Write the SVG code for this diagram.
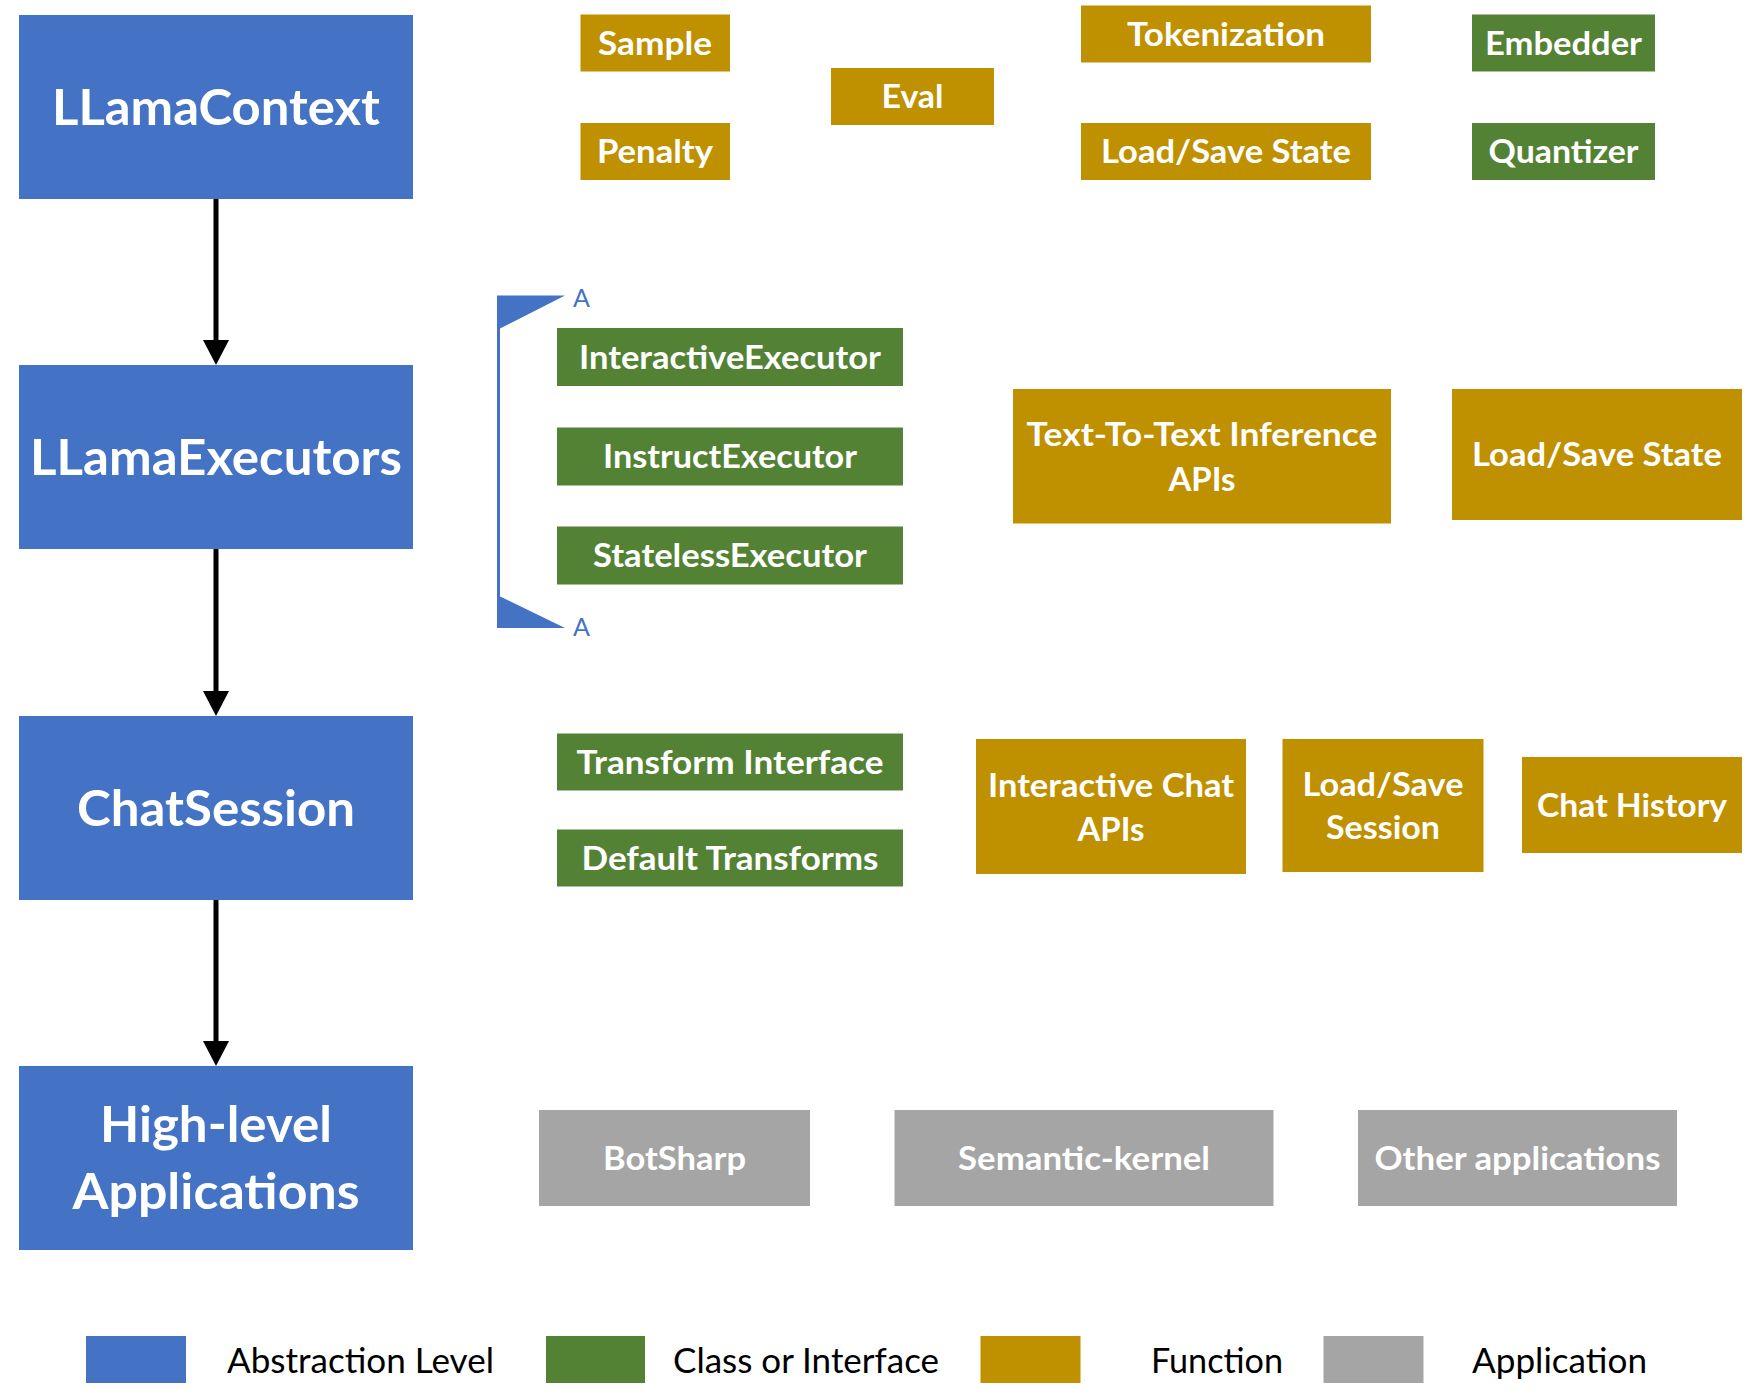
<svg xmlns="http://www.w3.org/2000/svg" width="1747" height="1400" viewBox="0 0 1747 1400">
<defs>
<marker id="ah" viewBox="0 0 25 26" refX="0" refY="13" markerWidth="25" markerHeight="26" markerUnits="userSpaceOnUse" orient="auto">
<path d="M0,0 L25,13 L0,26 Z" fill="#000"/>
</marker>
</defs>
<style>
.blue{fill:#4472C4}
.green{fill:#548235}
.gold{fill:#BF9000}
.grey{fill:#A5A5A5}
.t{font-family:Lato,"Liberation Sans",sans-serif;font-weight:bold;fill:#fff;text-anchor:middle}
.s{font-size:33px}
.b{font-size:50px}
.lg{font-family:Lato,"Liberation Sans",sans-serif;font-size:34px;fill:#000}
.a{font-family:Lato,"Liberation Sans",sans-serif;font-size:25px;fill:#4472C4}
.conn{stroke:#000;stroke-width:5;fill:none}
</style>
<rect width="1747" height="1400" fill="#fff"/>

<g id="connectors">
<line class="conn" x1="216" y1="199" x2="216" y2="340" marker-end="url(#ah)"/>
<line class="conn" x1="216" y1="549" x2="216" y2="691" marker-end="url(#ah)"/>
<line class="conn" x1="216" y1="900" x2="216" y2="1041" marker-end="url(#ah)"/>
</g>

<g id="bracket">
<line x1="498.5" y1="296" x2="498.5" y2="628" stroke="#4472C4" stroke-width="3"/>
<polygon class="blue" points="497,295.5 565,295.5 497,330"/>
<polygon class="blue" points="497,595 565,628 497,628"/>
<text class="a" x="573" y="307">A</text>
<text class="a" x="573" y="636">A</text>
</g>

<g id="LLamaContext"><rect class="blue" x="19" y="15" width="394" height="184"/><text class="t b" x="216" y="125" textLength="328" lengthAdjust="spacingAndGlyphs">LLamaContext</text></g>
<g id="LLamaExecutors"><rect class="blue" x="19" y="365" width="394" height="184"/><text class="t b" x="216" y="475" textLength="372" lengthAdjust="spacingAndGlyphs">LLamaExecutors</text></g>
<g id="ChatSession"><rect class="blue" x="19" y="716" width="394" height="184"/><text class="t b" x="216" y="826" textLength="278" lengthAdjust="spacingAndGlyphs">ChatSession</text></g>
<g id="HighLevel"><rect class="blue" x="19" y="1066" width="394" height="184"/><text class="t b" x="216" y="1142" textLength="232" lengthAdjust="spacingAndGlyphs">High-level</text><text class="t b" x="216" y="1209" textLength="287" lengthAdjust="spacingAndGlyphs">Applications</text></g>

<g id="Sample"><rect class="gold" x="580.5" y="14.5" width="149.5" height="57"/><text class="t s" x="655" y="55" textLength="114" lengthAdjust="spacingAndGlyphs">Sample</text></g>
<g id="Penalty"><rect class="gold" x="580.5" y="123" width="149.5" height="57"/><text class="t s" x="655" y="163" textLength="116" lengthAdjust="spacingAndGlyphs">Penalty</text></g>
<g id="Eval"><rect class="gold" x="831" y="68" width="163" height="57"/><text class="t s" x="912.5" y="108" textLength="62" lengthAdjust="spacingAndGlyphs">Eval</text></g>
<g id="Tokenization"><rect class="gold" x="1081" y="5.5" width="290" height="57"/><text class="t s" x="1226" y="46" textLength="198" lengthAdjust="spacingAndGlyphs">Tokenization</text></g>
<g id="LoadSaveStateTop"><rect class="gold" x="1081" y="123" width="290" height="57"/><text class="t s" x="1226" y="163" textLength="250" lengthAdjust="spacingAndGlyphs">Load/Save State</text></g>
<g id="Embedder"><rect class="green" x="1472" y="14.5" width="183" height="57"/><text class="t s" x="1563.5" y="55" textLength="157" lengthAdjust="spacingAndGlyphs">Embedder</text></g>
<g id="Quantizer"><rect class="green" x="1472" y="123" width="183" height="57"/><text class="t s" x="1563.5" y="163" textLength="150" lengthAdjust="spacingAndGlyphs">Quantizer</text></g>

<g id="InteractiveExecutor"><rect class="green" x="557" y="328" width="346" height="58"/><text class="t s" x="730" y="369" textLength="302" lengthAdjust="spacingAndGlyphs">InteractiveExecutor</text></g>
<g id="InstructExecutor"><rect class="green" x="557" y="427.5" width="346" height="58"/><text class="t s" x="730" y="468" textLength="254" lengthAdjust="spacingAndGlyphs">InstructExecutor</text></g>
<g id="StatelessExecutor"><rect class="green" x="557" y="526.5" width="346" height="58"/><text class="t s" x="730" y="567" textLength="274" lengthAdjust="spacingAndGlyphs">StatelessExecutor</text></g>
<g id="TextToText"><rect class="gold" x="1013" y="389" width="378" height="134.5"/><text class="t s" x="1202" y="446" textLength="351" lengthAdjust="spacingAndGlyphs">Text-To-Text Inference</text><text class="t s" x="1202" y="491" textLength="67" lengthAdjust="spacingAndGlyphs">APIs</text></g>
<g id="LoadSaveStateRight"><rect class="gold" x="1452" y="389" width="290" height="131"/><text class="t s" x="1597" y="466" textLength="250" lengthAdjust="spacingAndGlyphs">Load/Save State</text></g>

<g id="TransformInterface"><rect class="green" x="557" y="733.5" width="346" height="57"/><text class="t s" x="730" y="774" textLength="307" lengthAdjust="spacingAndGlyphs">Transform Interface</text></g>
<g id="DefaultTransforms"><rect class="green" x="557" y="829.5" width="346" height="57"/><text class="t s" x="730" y="870" textLength="297" lengthAdjust="spacingAndGlyphs">Default Transforms</text></g>
<g id="InteractiveChat"><rect class="gold" x="976" y="739" width="270" height="135"/><text class="t s" x="1111" y="797" textLength="246" lengthAdjust="spacingAndGlyphs">Interactive Chat</text><text class="t s" x="1111" y="841" textLength="67" lengthAdjust="spacingAndGlyphs">APIs</text></g>
<g id="LoadSaveSession"><rect class="gold" x="1282.5" y="739" width="201" height="133"/><text class="t s" x="1383" y="796" textLength="161" lengthAdjust="spacingAndGlyphs">Load/Save</text><text class="t s" x="1383" y="839" textLength="114" lengthAdjust="spacingAndGlyphs">Session</text></g>
<g id="ChatHistory"><rect class="gold" x="1522" y="757" width="220" height="96"/><text class="t s" x="1632" y="817" textLength="190" lengthAdjust="spacingAndGlyphs">Chat History</text></g>

<g id="BotSharp"><rect class="grey" x="539" y="1110" width="271" height="96"/><text class="t s" x="674.5" y="1170" textLength="143" lengthAdjust="spacingAndGlyphs">BotSharp</text></g>
<g id="SemanticKernel"><rect class="grey" x="894.5" y="1110" width="379" height="96"/><text class="t s" x="1084" y="1170" textLength="252" lengthAdjust="spacingAndGlyphs">Semantic-kernel</text></g>
<g id="OtherApplications"><rect class="grey" x="1358" y="1110" width="319" height="96"/><text class="t s" x="1517.5" y="1170" textLength="286" lengthAdjust="spacingAndGlyphs">Other applications</text></g>

<g id="legend">
<rect class="blue" x="86" y="1336" width="100" height="47"/>
<text class="lg" x="227" y="1373" textLength="267" lengthAdjust="spacingAndGlyphs">Abstraction Level</text>
<rect class="green" x="546" y="1336" width="99" height="47"/>
<text class="lg" x="673" y="1373" textLength="266" lengthAdjust="spacingAndGlyphs">Class or Interface</text>
<rect class="gold" x="980.5" y="1336" width="100" height="47"/>
<text class="lg" x="1151" y="1373" textLength="132" lengthAdjust="spacingAndGlyphs">Function</text>
<rect class="grey" x="1323.5" y="1336" width="100" height="47"/>
<text class="lg" x="1472" y="1373" textLength="175" lengthAdjust="spacingAndGlyphs">Application</text>
</g>
</svg>
